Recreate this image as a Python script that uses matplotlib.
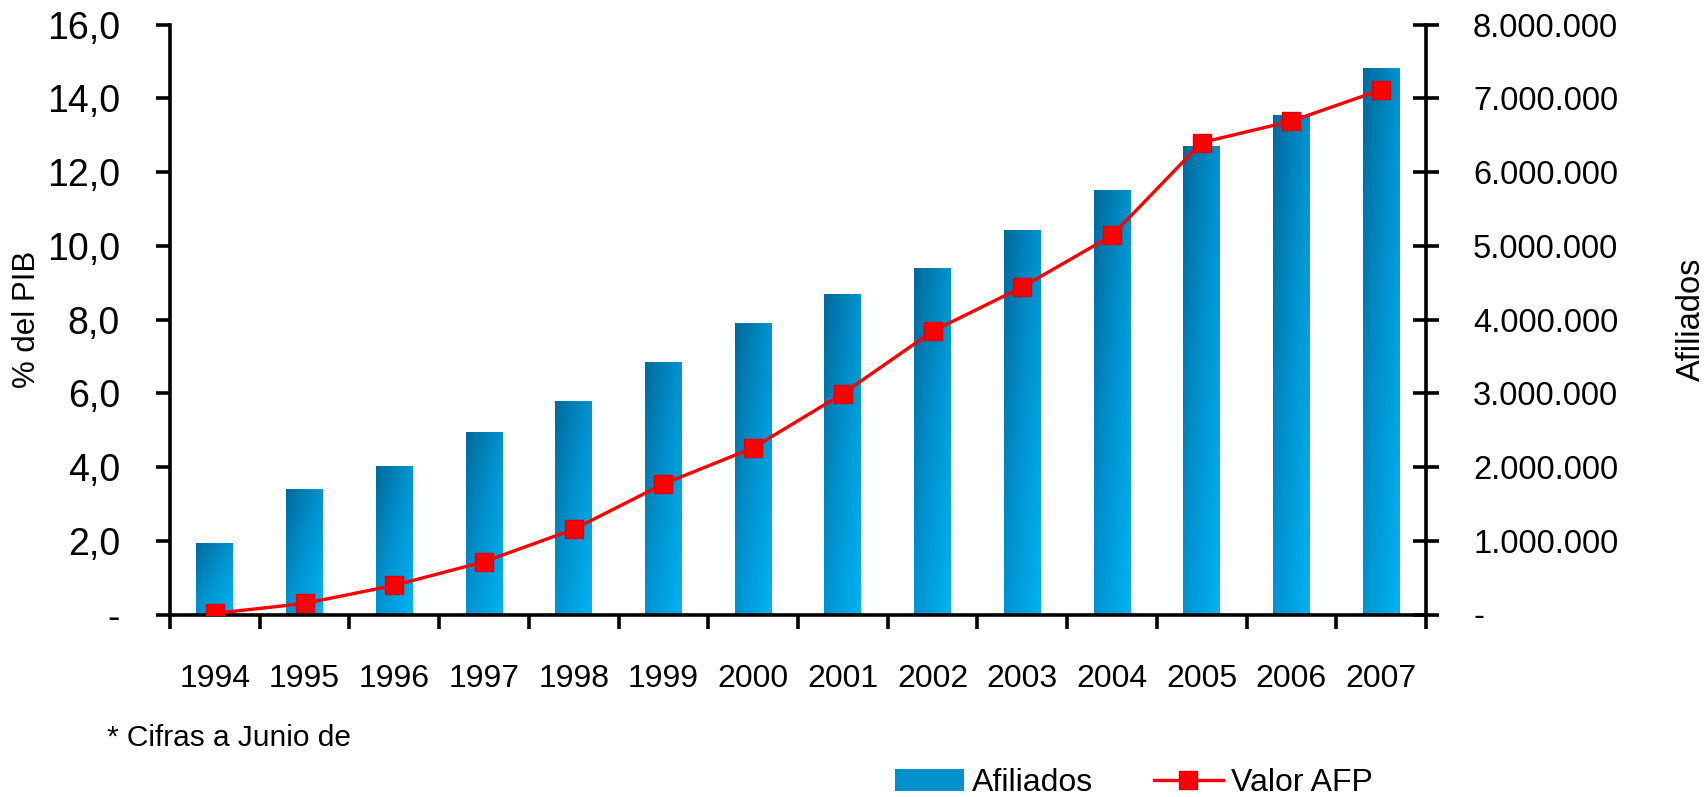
import numpy as np
import matplotlib
matplotlib.use("Agg")
import matplotlib.pyplot as plt
from matplotlib.colors import LinearSegmentedColormap
from matplotlib.ticker import FuncFormatter
from matplotlib.patches import Patch
from matplotlib.lines import Line2D

# values
years = ["1994", "1995", "1996", "1997", "1998", "1999", "2000",
         "2001", "2002", "2003", "2004", "2005", "2006", "2007"]
afiliados = [965000, 1700000, 2010000, 2470000, 2890000, 3420000, 3950000,
             4340000, 4700000, 5220000, 5750000, 6350000, 6770000, 7410000]
valor_afp = [0.03, 0.30, 0.79, 1.43, 2.31, 3.54, 4.52,
             5.99, 7.68, 8.88, 10.28, 12.80, 13.38, 14.23]

plt.rcParams["font.family"] = ["Liberation Sans", "DejaVu Sans"]

bar_cmap = LinearSegmentedColormap.from_list("afil", ["#006A9B", "#0093D0", "#00B3F2"])
spine_w = 2.6


def pct_fmt(v, _pos):
    if abs(v) < 1e-9:
        return "-"
    return f"{v:.1f}".replace(".", ",")


def num_fmt(v, _pos):
    if abs(v) < 1e-9:
        return "-"
    return f"{int(round(v)):,}".replace(",", ".")


fig = plt.figure(figsize=(17.08, 7.97), dpi=100)
ax = fig.add_axes([170 / 1708, 1 - 614.5 / 797, (1426 - 170) / 1708, 590 / 797])
ax2 = ax.twinx()
x = np.arange(len(years))

# bars (Afiliados) on the right-hand scale, filled with a diagonal gradient
bars = ax.bar(x, afiliados, width=0.41, color="none", edgecolor="none", zorder=2)
ny, nx = 200, 60
gx, gy = np.meshgrid(np.linspace(0, 1, nx), np.linspace(0, 1, ny))
grad = (gx + gy) / 2.0
for b in bars:
    x0, w, h = b.get_x(), b.get_width(), b.get_height()
    im = ax.imshow(grad, cmap=bar_cmap, extent=(x0, x0 + w, 0, h), origin="upper",
                   aspect="auto", interpolation="bilinear", zorder=2)
    im.set_clip_path(b)

ax.set_xlim(-0.5, len(years) - 0.5)
ax.set_ylim(0, 8000000)
ax.set_yticks(np.arange(0, 8000001, 1000000))
ax.yaxis.set_major_formatter(FuncFormatter(num_fmt))
ax.yaxis.tick_right()
ax.yaxis.set_label_position("right")
ax.tick_params(axis="y", direction="inout", length=18.7, width=spine_w, pad=24.5, labelsize=23.5)
ax.set_ylabel("Afiliados", fontsize=23.5)
ax.yaxis.set_label_coords(1.199, 0.5)

ax.set_xticks(x)
ax.set_xticklabels(years)
ax.set_xticks(np.arange(-0.5, len(years)), minor=True)
ax.tick_params(axis="x", which="major", length=0, pad=35.5, labelsize=23)
ax.tick_params(axis="x", which="minor", direction="out", length=10, width=spine_w)

ax.spines["top"].set_visible(False)
ax.spines["left"].set_visible(False)
for s in ("right", "bottom"):
    ax.spines[s].set_linewidth(spine_w)

# line (Valor AFP) on the left-hand scale
ax2.plot(x, valor_afp, color="#FF0000", lw=2.4, marker="s", markersize=13,
         markerfacecolor="#FF0000", markeredgecolor="#E00000", zorder=3)
ax2.set_ylim(0, 16)
ax2.set_yticks(np.arange(0, 16.1, 2))
ax2.yaxis.set_major_formatter(FuncFormatter(pct_fmt))
ax2.yaxis.tick_left()
ax2.yaxis.set_label_position("left")
ax2.tick_params(axis="y", direction="out", length=10, width=spine_w, pad=26, labelsize=27)
ax2.set_ylabel("% del PIB", fontsize=22.5)
ax2.yaxis.set_label_coords(-0.102, 0.5)
for s in ("top", "right", "bottom"):
    ax2.spines[s].set_visible(False)
ax2.spines["left"].set_linewidth(spine_w)

fig.text(107 / 1708, 1 - 738 / 797, "* Cifras a Junio de", fontsize=21.5, va="center")

handles = [Patch(facecolor="#0090CC", edgecolor="none"),
           Line2D([0], [0], color="#FF0000", lw=2.4, marker="s", markersize=13,
                  markerfacecolor="#FF0000", markeredgecolor="#E00000")]
fig.legend(handles, ["Afiliados", "Valor AFP"], loc="center left",
           bbox_to_anchor=(895 / 1708, 1 - 783 / 797), ncol=2, frameon=False,
           fontsize=23, handlelength=2.16, handleheight=0.69, handletextpad=0.25,
           columnspacing=1.9, borderpad=0, borderaxespad=0)

fig.savefig("out.png", dpi=100)
